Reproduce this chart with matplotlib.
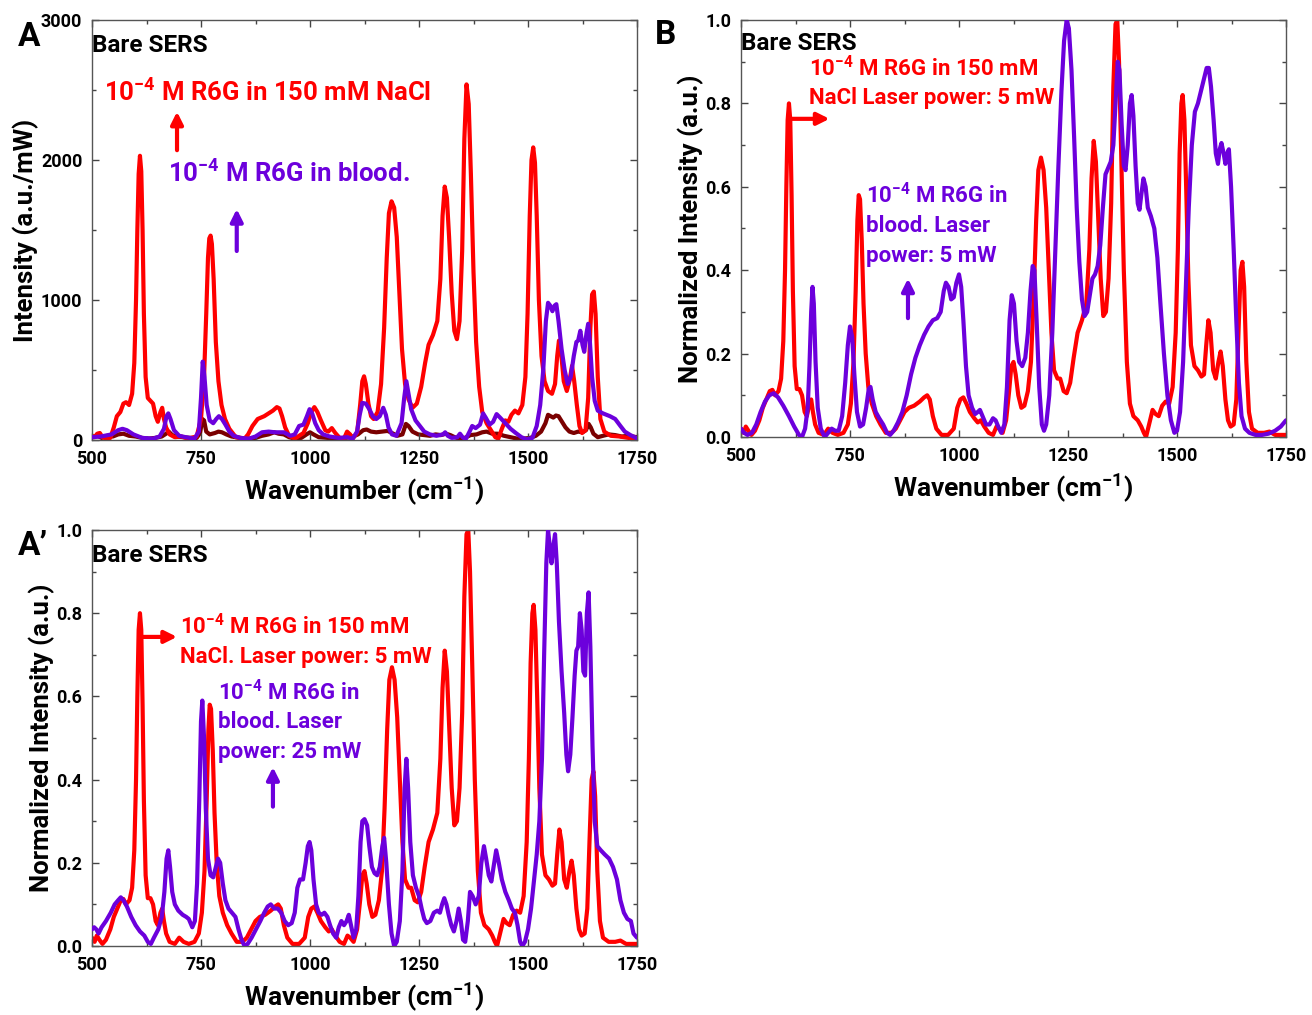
import matplotlib
matplotlib.use("Agg")
import matplotlib.pyplot as plt
from matplotlib.ticker import MultipleLocator

plt.rcParams['font.family'] = ['Roboto', 'DejaVu Sans']
plt.rcParams['font.weight'] = 'bold'
plt.rcParams['mathtext.fontset'] = 'custom'
plt.rcParams['mathtext.rm'] = 'Roboto:bold'
plt.rcParams['mathtext.bf'] = 'Roboto:bold'
plt.rcParams['mathtext.default'] = 'rm'

RED = '#FF0000'
PURPLE = '#6C00DC'
MAROON = '#7A0000'

# Panel A: raw intensity (a.u./mW)
red_A = [(500, 30), (506, 20), (512, 45), (518, 50), (524, 20), (532, 10), (542, 15), (550, 90),
         (557, 170), (565, 200), (572, 260), (578, 270), (585, 250), (592, 330), (597, 550),
         (601, 1000), (604, 1500), (607, 1900), (610, 2030), (613, 1920), (616, 1500),
         (619, 900), (623, 450), (628, 300), (634, 280), (640, 260), (646, 170), (651, 130),
         (657, 200), (661, 230), (665, 150), (670, 90), (678, 40), (690, 20), (705, 25),
         (720, 10), (740, 25), (750, 150), (757, 450), (762, 900), (766, 1300), (769, 1440),
         (772, 1460), (775, 1400), (779, 1150), (784, 700), (790, 420), (797, 250), (805, 150),
         (815, 80), (830, 20), (850, 10), (858, 40), (868, 100), (880, 150), (895, 170),
         (905, 190), (915, 210), (924, 235), (930, 225), (936, 170), (943, 90), (952, 30),
         (965, 10), (985, 50), (995, 120), (1003, 200), (1010, 235), (1017, 200), (1025, 140),
         (1035, 70), (1042, 60), (1050, 85), (1058, 50), (1068, 15), (1078, 10), (1085, 60),
         (1092, 40), (1098, 10), (1108, 50), (1115, 250), (1120, 420), (1124, 455),
         (1128, 400), (1134, 260), (1140, 170), (1146, 150), (1155, 200), (1163, 400),
         (1170, 800), (1176, 1300), (1181, 1620), (1187, 1705), (1193, 1660), (1199, 1450),
         (1205, 1050), (1211, 650), (1218, 400), (1226, 290), (1235, 230), (1245, 260),
         (1255, 380), (1264, 550), (1272, 680), (1282, 750), (1292, 850), (1299, 1150),
         (1304, 1600), (1309, 1810), (1314, 1730), (1319, 1450), (1325, 1050), (1331, 780),
         (1337, 720), (1343, 850), (1349, 1350), (1354, 2150), (1359, 2540), (1364, 2400),
         (1369, 1900), (1375, 1200), (1381, 700), (1388, 380), (1395, 200), (1405, 120),
         (1415, 70), (1425, 20), (1432, 10), (1440, 80), (1448, 140), (1455, 130), (1462, 180),
         (1470, 210), (1478, 190), (1487, 250), (1494, 450), (1499, 900), (1504, 1600),
         (1508, 2000), (1512, 2090), (1516, 1980), (1520, 1600), (1525, 1000), (1531, 600),
         (1538, 420), (1546, 350), (1555, 330), (1562, 400), (1567, 600), (1571, 710),
         (1576, 620), (1582, 420), (1589, 350), (1595, 420), (1601, 530), (1606, 420),
         (1612, 250), (1618, 100), (1624, 50), (1632, 70), (1638, 300), (1643, 800),
         (1647, 1040), (1651, 1060), (1655, 900), (1660, 450), (1666, 150), (1675, 60),
         (1690, 30), (1710, 25), (1730, 15), (1750, 10)]

purple_A = [(500, 20), (520, 25), (545, 40), (560, 70), (570, 80), (580, 70), (595, 40),
            (615, 15), (640, 10), (655, 25), (665, 80), (671, 170), (675, 190), (680, 150),
            (688, 70), (700, 30), (715, 20), (735, 10), (745, 60), (750, 300), (754, 560),
            (758, 450), (763, 250), (770, 140), (778, 120), (785, 150), (791, 170), (798, 150),
            (806, 110), (815, 60), (825, 30), (840, 15), (860, 10), (875, 25), (890, 55),
            (905, 60), (920, 55), (940, 55), (955, 30), (965, 40), (975, 100), (985, 110),
            (993, 170), (999, 220), (1005, 190), (1012, 120), (1020, 70), (1030, 40),
            (1045, 25), (1065, 15), (1085, 20), (1098, 10), (1108, 60), (1114, 180),
            (1120, 265), (1128, 260), (1136, 220), (1144, 170), (1152, 150), (1160, 170),
            (1168, 230), (1174, 180), (1180, 90), (1188, 40), (1198, 30), (1210, 120),
            (1216, 300), (1221, 420), (1226, 330), (1232, 220), (1242, 140), (1252, 100),
            (1262, 60), (1275, 40), (1290, 30), (1305, 40), (1310, 55), (1316, 30), (1325, 15),
            (1338, 20), (1344, 45), (1350, 20), (1357, 5), (1366, 60), (1372, 100), (1380, 85),
            (1390, 110), (1397, 190), (1403, 160), (1412, 110), (1420, 130), (1428, 185),
            (1436, 160), (1448, 120), (1460, 80), (1472, 50), (1485, 20), (1497, 5), (1510, 15),
            (1520, 100), (1528, 250), (1535, 500), (1541, 850), (1546, 980), (1551, 960),
            (1556, 920), (1561, 960), (1565, 970), (1570, 850), (1577, 650), (1584, 500),
            (1591, 400), (1598, 450), (1605, 600), (1611, 700), (1615, 710), (1620, 780),
            (1625, 680), (1629, 630), (1634, 760), (1638, 830), (1642, 700), (1647, 450),
            (1653, 280), (1660, 210), (1672, 190), (1688, 170), (1700, 150), (1712, 100),
            (1722, 60), (1735, 35), (1745, 20), (1750, 10)]

maroon_A = [(500, 20), (512, 30), (522, 15), (535, 30), (548, 25), (560, 40), (572, 45),
            (585, 30), (600, 25), (615, 15), (630, 10), (645, 15), (660, 25), (670, 45),
            (676, 60), (684, 35), (695, 25), (710, 20), (725, 15), (740, 15), (748, 50),
            (753, 150), (757, 140), (762, 60), (770, 40), (782, 50), (790, 60), (798, 55),
            (808, 40), (820, 25), (840, 15), (860, 10), (875, 15), (890, 30), (905, 40),
            (918, 55), (928, 45), (940, 40), (952, 20), (965, 10), (980, 15), (992, 40),
            (1000, 55), (1008, 40), (1020, 20), (1040, 15), (1060, 10), (1080, 15), (1095, 20),
            (1110, 40), (1122, 70), (1130, 75), (1140, 60), (1152, 55), (1165, 60), (1178, 65),
            (1188, 50), (1200, 30), (1212, 40), (1220, 115), (1226, 100), (1235, 60), (1248, 40),
            (1262, 35), (1275, 30), (1288, 40), (1300, 35), (1312, 45), (1322, 35), (1332, 20),
            (1342, 10), (1355, 15), (1368, 35), (1382, 40), (1395, 55), (1405, 60), (1418, 45),
            (1430, 45), (1445, 30), (1460, 20), (1475, 10), (1490, 10), (1505, 15), (1518, 30),
            (1530, 60), (1540, 120), (1546, 180), (1552, 170), (1558, 160), (1564, 175),
            (1570, 170), (1578, 130), (1586, 90), (1595, 60), (1605, 50), (1615, 60), (1625, 55),
            (1633, 70), (1639, 115), (1644, 90), (1650, 45), (1660, 20), (1672, 30), (1685, 40),
            (1700, 35), (1715, 25), (1730, 30), (1750, 20)]

# Panels B and A': normalized intensity
red_norm = [(500, 0.02), (506, 0.01), (511, 0.025), (517, 0.015), (524, 0.005), (532, 0.015),
            (542, 0.04), (550, 0.07), (558, 0.09), (566, 0.11), (572, 0.113), (578, 0.10),
            (586, 0.11), (592, 0.14), (597, 0.23), (601, 0.40), (604, 0.60), (607, 0.76),
            (610, 0.80), (613, 0.76), (616, 0.58), (619, 0.35), (623, 0.17), (628, 0.115),
            (634, 0.115), (640, 0.10), (646, 0.06), (651, 0.05), (657, 0.08), (661, 0.09),
            (665, 0.06), (670, 0.03), (678, 0.01), (690, 0.005), (700, 0.02), (710, 0.01),
            (722, 0.005), (735, 0.01), (745, 0.03), (752, 0.08), (758, 0.18), (763, 0.35),
            (767, 0.52), (770, 0.58), (773, 0.57), (777, 0.47), (781, 0.32), (786, 0.20),
            (792, 0.12), (800, 0.08), (810, 0.05), (820, 0.03), (832, 0.01), (845, 0.01),
            (855, 0.02), (865, 0.04), (875, 0.06), (885, 0.07), (897, 0.075), (910, 0.085),
            (920, 0.095), (927, 0.10), (933, 0.09), (940, 0.05), (948, 0.02), (960, 0.005),
            (975, 0.005), (988, 0.02), (996, 0.07), (1003, 0.09), (1010, 0.095), (1017, 0.08),
            (1025, 0.06), (1035, 0.045), (1043, 0.035), (1050, 0.04), (1058, 0.025),
            (1068, 0.01), (1078, 0.005), (1086, 0.025), (1092, 0.02), (1100, 0.01), (1108, 0.04),
            (1115, 0.11), (1120, 0.17), (1125, 0.18), (1130, 0.15), (1136, 0.10), (1143, 0.07),
            (1150, 0.075), (1158, 0.11), (1165, 0.18), (1171, 0.33), (1177, 0.52), (1182, 0.64),
            (1188, 0.67), (1194, 0.64), (1200, 0.55), (1206, 0.40), (1212, 0.25), (1218, 0.16),
            (1226, 0.14), (1232, 0.14), (1240, 0.11), (1247, 0.105), (1255, 0.13), (1263, 0.19),
            (1272, 0.25), (1282, 0.28), (1292, 0.32), (1299, 0.45), (1304, 0.62), (1309, 0.71),
            (1314, 0.66), (1319, 0.53), (1325, 0.38), (1331, 0.29), (1337, 0.30), (1343, 0.38),
            (1349, 0.56), (1354, 0.84), (1359, 0.99), (1363, 1.00), (1367, 0.90), (1372, 0.68),
            (1378, 0.40), (1385, 0.18), (1392, 0.08), (1400, 0.05), (1410, 0.04), (1418, 0.025),
            (1424, 0.01), (1429, 0.0), (1436, 0.03), (1444, 0.065), (1451, 0.055), (1458, 0.05),
            (1466, 0.075), (1474, 0.085), (1482, 0.08), (1490, 0.12), (1497, 0.25), (1502, 0.45),
            (1506, 0.68), (1510, 0.80), (1513, 0.82), (1517, 0.76), (1521, 0.60), (1526, 0.38),
            (1532, 0.22), (1540, 0.17), (1548, 0.16), (1556, 0.145), (1562, 0.15), (1567, 0.22),
            (1572, 0.28), (1577, 0.25), (1583, 0.16), (1589, 0.14), (1595, 0.18), (1600, 0.205),
            (1605, 0.17), (1611, 0.09), (1617, 0.04), (1623, 0.025), (1630, 0.03), (1636, 0.09),
            (1641, 0.25), (1646, 0.40), (1650, 0.42), (1654, 0.36), (1659, 0.18), (1665, 0.06),
            (1672, 0.02), (1685, 0.01), (1700, 0.01), (1712, 0.013), (1725, 0.005),
            (1750, 0.005)]

purple_B = [(500, 0.02), (507, 0.01), (515, 0.005), (525, 0.01), (535, 0.03), (545, 0.06),
            (555, 0.085), (565, 0.10), (575, 0.105), (585, 0.095), (597, 0.075), (610, 0.05),
            (622, 0.025), (633, 0.005), (640, 0.0), (647, 0.02), (653, 0.07), (657, 0.17),
            (661, 0.30), (664, 0.36), (667, 0.32), (671, 0.18), (676, 0.07), (683, 0.02),
            (692, 0.0), (700, 0.01), (708, 0.02), (716, 0.015), (724, 0.015), (732, 0.05),
            (739, 0.13), (745, 0.22), (750, 0.265), (755, 0.24), (760, 0.15), (766, 0.06),
            (773, 0.025), (780, 0.03), (787, 0.07), (793, 0.115), (797, 0.12), (802, 0.09),
            (809, 0.06), (817, 0.045), (826, 0.03), (835, 0.01), (842, 0.005), (850, 0.015),
            (860, 0.035), (870, 0.06), (880, 0.10), (890, 0.15), (900, 0.19), (910, 0.22),
            (920, 0.245), (930, 0.265), (940, 0.28), (950, 0.285), (958, 0.30), (965, 0.35),
            (970, 0.37), (976, 0.36), (982, 0.33), (988, 0.335), (994, 0.37), (1000, 0.39),
            (1005, 0.36), (1010, 0.28), (1016, 0.17), (1022, 0.10), (1030, 0.07), (1037, 0.055),
            (1043, 0.06), (1048, 0.065), (1054, 0.05), (1062, 0.03), (1070, 0.03), (1078, 0.045),
            (1084, 0.04), (1090, 0.025), (1097, 0.01), (1104, 0.03), (1110, 0.12), (1116, 0.28),
            (1121, 0.34), (1126, 0.32), (1132, 0.23), (1138, 0.18), (1145, 0.17), (1152, 0.19),
            (1158, 0.25), (1164, 0.35), (1169, 0.41), (1173, 0.40), (1178, 0.28), (1184, 0.12),
            (1190, 0.03), (1195, 0.015), (1200, 0.03), (1207, 0.10), (1214, 0.25), (1221, 0.45),
            (1228, 0.65), (1235, 0.83), (1241, 0.95), (1247, 1.0), (1252, 0.98), (1258, 0.88),
            (1264, 0.72), (1270, 0.55), (1276, 0.42), (1282, 0.33), (1288, 0.29), (1294, 0.30),
            (1300, 0.34), (1306, 0.38), (1312, 0.39), (1318, 0.41), (1324, 0.46), (1330, 0.55),
            (1336, 0.63), (1342, 0.645), (1348, 0.66), (1354, 0.70), (1359, 0.80), (1364, 0.90),
            (1368, 0.88), (1373, 0.75), (1378, 0.65), (1382, 0.64), (1387, 0.70), (1392, 0.80),
            (1396, 0.82), (1400, 0.77), (1405, 0.65), (1410, 0.56), (1414, 0.545), (1418, 0.58),
            (1423, 0.62), (1428, 0.60), (1433, 0.55), (1440, 0.53), (1448, 0.50), (1455, 0.43),
            (1462, 0.32), (1470, 0.20), (1478, 0.10), (1486, 0.04), (1494, 0.01), (1500, 0.015),
            (1507, 0.06), (1514, 0.18), (1520, 0.35), (1527, 0.55), (1534, 0.70), (1541, 0.78),
            (1548, 0.80), (1555, 0.83), (1562, 0.86), (1568, 0.885), (1573, 0.885), (1578, 0.84),
            (1584, 0.76), (1589, 0.68), (1594, 0.655), (1598, 0.69), (1602, 0.705), (1607, 0.68),
            (1611, 0.655), (1615, 0.68), (1619, 0.69), (1624, 0.60), (1630, 0.45), (1636, 0.28),
            (1642, 0.13), (1648, 0.05), (1656, 0.02), (1666, 0.01), (1680, 0.005),
            (1695, 0.005), (1710, 0.008), (1725, 0.015), (1738, 0.025), (1750, 0.04)]

purple_Ap = [(500, 0.04), (505, 0.045), (510, 0.04), (515, 0.03), (522, 0.045), (532, 0.06),
             (543, 0.08), (552, 0.10), (560, 0.11), (566, 0.117), (572, 0.11), (580, 0.095),
             (590, 0.07), (600, 0.05), (610, 0.035), (620, 0.025), (628, 0.01), (635, 0.005),
             (642, 0.02), (652, 0.04), (660, 0.07), (666, 0.13), (671, 0.21), (675, 0.23),
             (679, 0.19), (684, 0.13), (690, 0.10), (698, 0.085), (708, 0.075), (716, 0.07),
             (722, 0.065), (730, 0.045), (736, 0.06), (741, 0.15), (746, 0.35), (750, 0.54),
             (753, 0.59), (757, 0.50), (761, 0.33), (766, 0.21), (772, 0.17), (778, 0.165),
             (784, 0.19), (789, 0.21), (794, 0.20), (800, 0.15), (806, 0.11), (813, 0.09),
             (821, 0.08), (829, 0.07), (836, 0.04), (843, 0.015), (850, 0.0), (857, 0.005),
             (866, 0.02), (876, 0.04), (886, 0.06), (895, 0.08), (903, 0.095), (910, 0.10),
             (918, 0.09), (926, 0.09), (934, 0.08), (942, 0.06), (950, 0.05), (958, 0.055),
             (965, 0.08), (971, 0.14), (977, 0.16), (984, 0.16), (990, 0.20), (995, 0.24),
             (999, 0.25), (1003, 0.23), (1008, 0.16), (1014, 0.10), (1020, 0.08), (1027, 0.075),
             (1033, 0.08), (1040, 0.07), (1046, 0.05), (1053, 0.03), (1060, 0.02), (1066, 0.045),
             (1072, 0.06), (1078, 0.05), (1084, 0.06), (1089, 0.075), (1094, 0.05), (1100, 0.02),
             (1106, 0.04), (1111, 0.12), (1116, 0.25), (1120, 0.30), (1125, 0.305), (1131, 0.29),
             (1136, 0.24), (1142, 0.19), (1148, 0.175), (1154, 0.17), (1160, 0.19), (1166, 0.24),
             (1170, 0.26), (1175, 0.20), (1181, 0.10), (1187, 0.03), (1193, 0.0), (1199, 0.01),
             (1206, 0.06), (1212, 0.18), (1217, 0.38), (1221, 0.45), (1225, 0.38), (1230, 0.25),
             (1236, 0.17), (1243, 0.14), (1250, 0.12), (1256, 0.09), (1262, 0.065), (1268, 0.055),
             (1276, 0.06), (1284, 0.08), (1292, 0.085), (1298, 0.08), (1303, 0.10), (1308, 0.115),
             (1313, 0.10), (1318, 0.075), (1324, 0.05), (1330, 0.035), (1336, 0.06), (1341, 0.09),
             (1346, 0.06), (1351, 0.015), (1356, 0.01), (1362, 0.06), (1367, 0.13), (1373, 0.12),
             (1380, 0.10), (1387, 0.12), (1393, 0.20), (1399, 0.24), (1404, 0.21), (1410, 0.17),
             (1416, 0.155), (1421, 0.19), (1427, 0.23), (1433, 0.20), (1440, 0.16), (1448, 0.13),
             (1456, 0.11), (1463, 0.09), (1470, 0.08), (1476, 0.05), (1482, 0.01), (1487, 0.0),
             (1493, 0.01), (1500, 0.04), (1507, 0.09), (1514, 0.16), (1520, 0.22), (1526, 0.30),
             (1532, 0.45), (1537, 0.70), (1542, 0.92), (1546, 1.0), (1550, 0.96), (1554, 0.92),
             (1558, 0.96), (1562, 0.99), (1566, 0.92), (1571, 0.78), (1577, 0.66), (1583, 0.56),
             (1588, 0.46), (1592, 0.42), (1597, 0.46), (1602, 0.55), (1607, 0.65), (1611, 0.71),
             (1615, 0.72), (1619, 0.80), (1623, 0.76), (1627, 0.66), (1631, 0.65), (1635, 0.80),
             (1639, 0.85), (1643, 0.72), (1648, 0.48), (1653, 0.30), (1659, 0.24), (1667, 0.23),
             (1676, 0.22), (1686, 0.21), (1695, 0.19), (1704, 0.16), (1712, 0.11), (1720, 0.08),
             (1728, 0.065), (1736, 0.06), (1742, 0.03), (1750, 0.02)]

W, H = 1312, 1015


def box(l, t, r, b):
    return [l / W, 1 - b / H, (r - l) / W, (b - t) / H]


def fx(x, y):
    return x / W, 1 - y / H


def plot_xy(ax, pts, color, lw=3.0, z=2):
    xs = [p[0] for p in pts]
    ys = [p[1] for p in pts]
    ax.plot(xs, ys, color=color, lw=lw, solid_joinstyle='round', solid_capstyle='round',
            zorder=z)


def style(ax, ymax, ymajor, yminor, ylabel, fmt):
    ax.set_xlim(500, 1750)
    ax.set_ylim(0, ymax)
    ax.xaxis.set_major_locator(MultipleLocator(250))
    ax.xaxis.set_minor_locator(MultipleLocator(125))
    ax.yaxis.set_major_locator(MultipleLocator(ymajor))
    ax.yaxis.set_minor_locator(MultipleLocator(yminor))
    ax.tick_params(which='both', direction='in', top=True, right=True, color='#444444',
                   width=1)
    ax.tick_params(which='major', length=5, labelsize=13, pad=7)
    ax.tick_params(which='minor', length=3)
    for s in ax.spines.values():
        s.set_color('#555555')
        s.set_linewidth(1)
    ax.yaxis.set_major_formatter(fmt)
    ax.set_xlabel('Wavenumber (cm$^{-1}$)', fontsize=19, fontweight='bold', labelpad=5)
    ax.set_ylabel(ylabel, fontsize=18.5, fontweight='bold', labelpad=1)
    for lab in ax.get_xticklabels() + ax.get_yticklabels():
        lab.set_fontweight('bold')


def arrow(ax, start, end, color):
    ax.annotate('', xy=end, xytext=start,
                arrowprops=dict(arrowstyle='-|>', color=color, lw=3, mutation_scale=18,
                                shrinkA=0, shrinkB=0))


fig = plt.figure(figsize=(W / 100, H / 100), dpi=100)

# ---- Panel A
axA = fig.add_axes(box(92, 20, 637, 440))
plot_xy(axA, maroon_A, MAROON, z=1)
plot_xy(axA, red_A, RED, z=2)
plot_xy(axA, purple_A, PURPLE, z=3)
style(axA, 3000, 1000, 500, 'Intensity (a.u./mW)', plt.FuncFormatter(lambda v, p: f'{v:.0f}'))
arrow(axA, (695, 2070), (695, 2345), RED)
arrow(axA, (832, 1350), (832, 1650), PURPLE)
fig.text(*fx(18, 37), 'A', fontsize=24, fontweight='bold', va='center')
fig.text(*fx(92, 45), 'Bare SERS', fontsize=17.5, fontweight='bold', va='center')
fig.text(*fx(104, 92), '10$^{-4}$ M R6G in 150 mM NaCl', fontsize=18.5, fontweight='bold',
         va='center', color=RED)
fig.text(*fx(168, 173), '10$^{-4}$ M R6G in blood.', fontsize=18.5, fontweight='bold',
         va='center', color=PURPLE)

# ---- Panel B
axB = fig.add_axes(box(741, 20, 1286, 437))
plot_xy(axB, red_norm, RED, z=2)
plot_xy(axB, purple_B, PURPLE, z=3)
style(axB, 1.0, 0.2, 0.1, 'Normalized Intensity (a.u.)',
      plt.FuncFormatter(lambda v, p: f'{v:.1f}'))
arrow(axB, (610, 0.763), (703, 0.763), RED)
arrow(axB, (883, 0.285), (883, 0.38), PURPLE)
fig.text(*fx(655, 35), 'B', fontsize=24, fontweight='bold', va='center')
fig.text(*fx(741, 44), 'Bare SERS', fontsize=17.5, fontweight='bold', va='center')
fig.text(*fx(809, 69), '10$^{-4}$ M R6G in 150 mM', fontsize=16, fontweight='bold',
         va='center', color=RED)
fig.text(*fx(809, 98), 'NaCl Laser power: 5 mW', fontsize=16, fontweight='bold',
         va='center', color=RED)
fig.text(*fx(866, 196), '10$^{-4}$ M R6G in', fontsize=16, fontweight='bold',
         va='center', color=PURPLE)
fig.text(*fx(866, 226), 'blood. Laser', fontsize=16, fontweight='bold',
         va='center', color=PURPLE)
fig.text(*fx(866, 256), 'power: 5 mW', fontsize=16, fontweight='bold',
         va='center', color=PURPLE)

# ---- Panel A'
axC = fig.add_axes(box(92, 530, 637, 946))
plot_xy(axC, red_norm, RED, z=2)
plot_xy(axC, purple_Ap, PURPLE, z=3)
style(axC, 1.0, 0.2, 0.1, 'Normalized Intensity (a.u.)',
      plt.FuncFormatter(lambda v, p: f'{v:.1f}'))
arrow(axC, (610, 0.743), (695, 0.743), RED)
arrow(axC, (915, 0.335), (915, 0.43), PURPLE)
fig.text(*fx(18, 546), 'A\u2019', fontsize=24, fontweight='bold', va='center')
fig.text(*fx(92, 556), 'Bare SERS', fontsize=17.5, fontweight='bold', va='center')
fig.text(*fx(180, 627), '10$^{-4}$ M R6G in 150 mM', fontsize=16, fontweight='bold',
         va='center', color=RED)
fig.text(*fx(180, 657), 'NaCl. Laser power: 5 mW', fontsize=16, fontweight='bold',
         va='center', color=RED)
fig.text(*fx(218, 693), '10$^{-4}$ M R6G in', fontsize=16, fontweight='bold',
         va='center', color=PURPLE)
fig.text(*fx(218, 722), 'blood. Laser', fontsize=16, fontweight='bold',
         va='center', color=PURPLE)
fig.text(*fx(218, 752), 'power: 25 mW', fontsize=16, fontweight='bold',
         va='center', color=PURPLE)

fig.savefig('out.png', dpi=100, facecolor='white')
